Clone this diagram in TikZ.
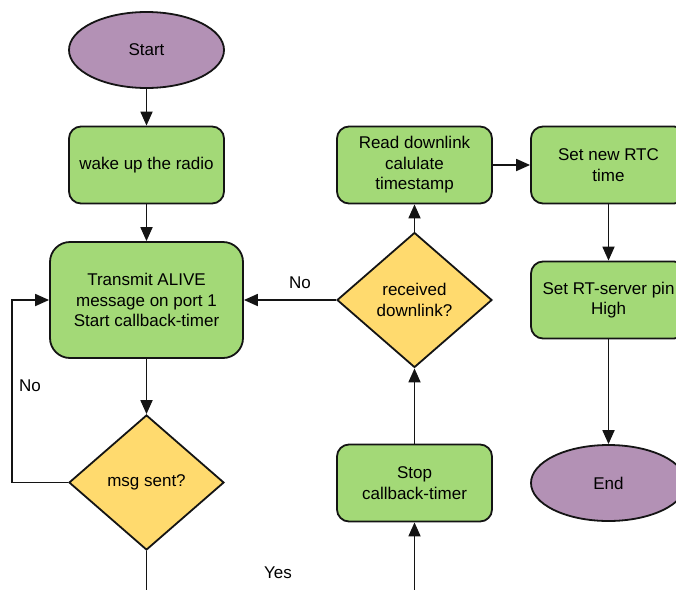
\documentclass[tikz,border=0pt]{standalone}
\usepackage{fontspec}
\setmainfont{Liberation Sans}
\usetikzlibrary{shapes.geometric,arrows.meta}
\definecolor{procfill}{RGB}{163,217,119}
\definecolor{termfill}{RGB}{179,145,181}
\definecolor{decfill}{RGB}{255,218,110}
\definecolor{edge}{RGB}{20,20,20}
\tikzset{
  base/.style={draw=edge, line width=1.8pt, align=center, inner sep=0pt,
    font=\fontsize{17}{20.5}\selectfont},
  process/.style={base, fill=procfill, rounded corners=12pt,
    minimum width=155pt, minimum height=77pt},
  bigprocess/.style={process, rounded corners=20pt,
    minimum width=193pt, minimum height=116pt},
  terminal/.style={base, ellipse, fill=termfill,
    minimum width=155pt, minimum height=76pt},
  decision/.style={base, diamond, fill=decfill, aspect=1.14,
    minimum width=155pt, minimum height=135pt},
  flow/.style={draw=edge, line width=1.8pt,
    -{Triangle[length=14pt,width=12pt]}},
  lbl/.style={font=\fontsize{17}{20.5}\selectfont, inner sep=0pt}
}
\begin{document}
\begin{tikzpicture}[x=1pt,y=-1pt]
  \useasboundingbox (0,0) rectangle (676,589);
  \clip (0,0) rectangle (676,589);

  % left column
  \node[terminal]   (start) at (146.5,50)  {Start};
  \node[process]    (wake)  at (146.5,165) {wake up the radio};
  \node[bigprocess] (tx)    at (146.5,300) {Transmit ALIVE\\message on port 1\\Start callback-timer};
  \node[decision]   (msg)   at (146.5,482.5) {msg sent?};

  % middle column
  \node[process]  (read) at (414.5,165) {Read downlink\\calulate\\timestamp};
  \node[decision] (recv) at (414.5,300) {received\\downlink?};
  \node[process]  (stop) at (414.5,483) {Stop\\callback-timer};

  % right column
  \node[process]  (rtc)  at (608.5,165) {Set new RTC\\time};
  \node[process]  (pin)  at (608.5,300) {Set RT-server pin\\High};
  \node[terminal] (end)  at (608.5,483) {End};

  % turning points of the routed connectors
  \coordinate (loop)    at (12,300);
  \coordinate (yesturn) at (414.5,620);

  \draw[flow] (start) -- (wake);
  \draw[flow] (wake) -- (tx);
  \draw[flow] (tx) -- (msg);
  \draw[flow] (msg.west) -| (loop) -- (tx.west);
  \draw[flow] (msg.south) |- (yesturn) -- (stop.south);
  \draw[flow] (stop) -- (recv);
  \draw[flow] (recv.west) -- (tx.east);
  \draw[flow] (recv) -- (read);
  \draw[flow] (read) -- (rtc);
  \draw[flow] (rtc) -- (pin);
  \draw[flow] (pin) -- (end);

  % branch labels
  \node[lbl] (lno1) at (30,386)  {No};
  \node[lbl] (lno2) at (300,283) {No};
  \node[lbl] (lyes) at (278,573) {Yes};
\end{tikzpicture}
\end{document}
